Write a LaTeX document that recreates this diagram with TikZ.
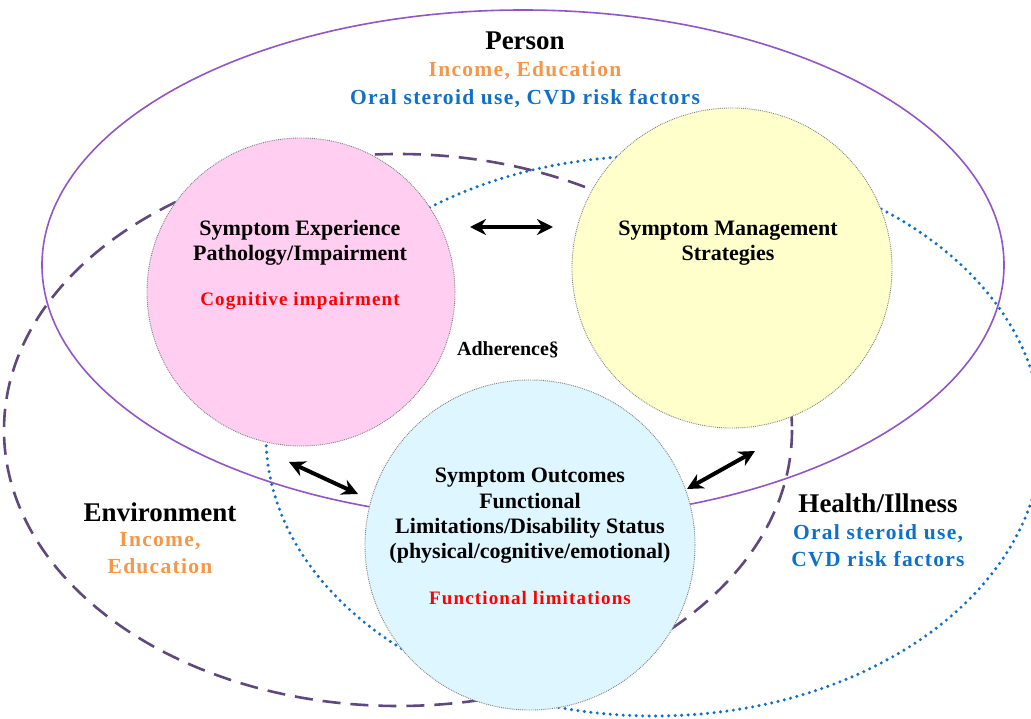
\documentclass[tikz,border=0pt]{standalone}
\usepackage{fontspec}
\setmainfont{Liberation Serif}
\newfontfamily\colfont[LetterSpace=6]{Liberation Serif}
\usepackage{tikz}
\usetikzlibrary{positioning, arrows.meta}
\definecolor{personPurple}{RGB}{146,86,196}
\definecolor{envPurple}{RGB}{94,72,124}
\definecolor{healthBlue}{RGB}{16,112,200}
\definecolor{incomeOrange}{RGB}{247,150,70}
\definecolor{symPink}{RGB}{255,206,240}
\definecolor{symYellow}{RGB}{255,255,204}
\definecolor{symBlue}{RGB}{221,246,255}
\tikzset{
    symcircle/.style={
        circle,
        draw=gray,
        densely dotted,
        line width=0.9pt
    },
    headtext/.style={
        font=\fontsize{27}{30}\selectfont\bfseries
    },
    circtext/.style={
        align=center,
        inner sep=0pt,
        font=\fontsize{22}{25.3}\selectfont\bfseries
    },
    coltext/.style={
        align=center,
        inner sep=0pt,
        font=\fontsize{21.5}{27}\selectfont\colfont\bfseries
    },
    redtext/.style={
        inner sep=0pt,
        text=red,
        font=\fontsize{19}{22}\selectfont\colfont\bfseries
    },
    dblarrow/.style={
        {Stealth[length=16pt,width=16pt]}-{Stealth[length=16pt,width=16pt]},
        line width=4pt
    }
}

\begin{document}
\begin{tikzpicture}[x=1pt, y=-1pt]
    \useasboundingbox (0,0) rectangle (1031,719);

    % domains
    \draw[personPurple, line width=1.6pt] (523,265) ellipse [x radius=481, y radius=255];
    \draw[envPurple, line width=2.6pt, dash pattern=on 18pt off 10pt] (398,430) ellipse [x radius=394, y radius=276];
    \draw[healthBlue, line width=3.4pt, line cap=round, dash pattern=on 0pt off 6.5pt] (654,436) ellipse [x radius=388, y radius=280];

    % symptom circles
    \node[symcircle, fill=symPink, minimum size=308pt] (exper) at (301,292) {};
    \node[symcircle, fill=symYellow, minimum size=320pt] (manage) at (732,268) {};
    \node[symcircle, fill=symBlue, minimum size=330pt] (outcome) at (530,545) {};

    % circle texts
    \node[circtext] (expT) at (300,243) {Symptom Experience\\Pathology/Impairment};
    \node[redtext, below=26pt of expT] (expR) {Cognitive impairment};
    \node[circtext] (manT) at (728,243) {Symptom Management\\Strategies};
    \node[circtext] (outT) at (530,516) {Symptom Outcomes\\Functional\\Limitations/Disability Status\\(physical/cognitive/emotional)};
    \node[redtext, below=27pt of outT] (outR) {Functional limitations};
    \node[inner sep=0pt, font=\fontsize{20}{22}\selectfont\bfseries] (adher) at (508,350) {Adherence\S};

    % domain labels
    \node[headtext] (person) at (525,41) {Person};
    \node[coltext, text=incomeOrange, below=8pt of person] (perInc) {Income, Education};
    \node[coltext, text=healthBlue, below=9pt of perInc] (perOral) {Oral steroid use, CVD risk factors};

    \node[headtext] (env) at (160,512) {Environment};
    \node[coltext, text=incomeOrange, below=7pt of env] (envInc) {Income,\\Education};

    \node[headtext] (health) at (878,503) {Health/Illness};
    \node[coltext, text=healthBlue, below=8pt of health] (hlthOral) {Oral steroid use,\\CVD risk factors};

    % arrows
    \coordinate (a1) at (470,227);
    \coordinate (a2) at (553,227);
    \coordinate (b1) at (289,462);
    \coordinate (b2) at (358,494);
    \coordinate (c1) at (687,489);
    \coordinate (c2) at (755,451);
    \draw[dblarrow] (a1) -- (a2);
    \draw[dblarrow] (b1) -- (b2);
    \draw[dblarrow] (c1) -- (c2);
\end{tikzpicture}
\end{document}
